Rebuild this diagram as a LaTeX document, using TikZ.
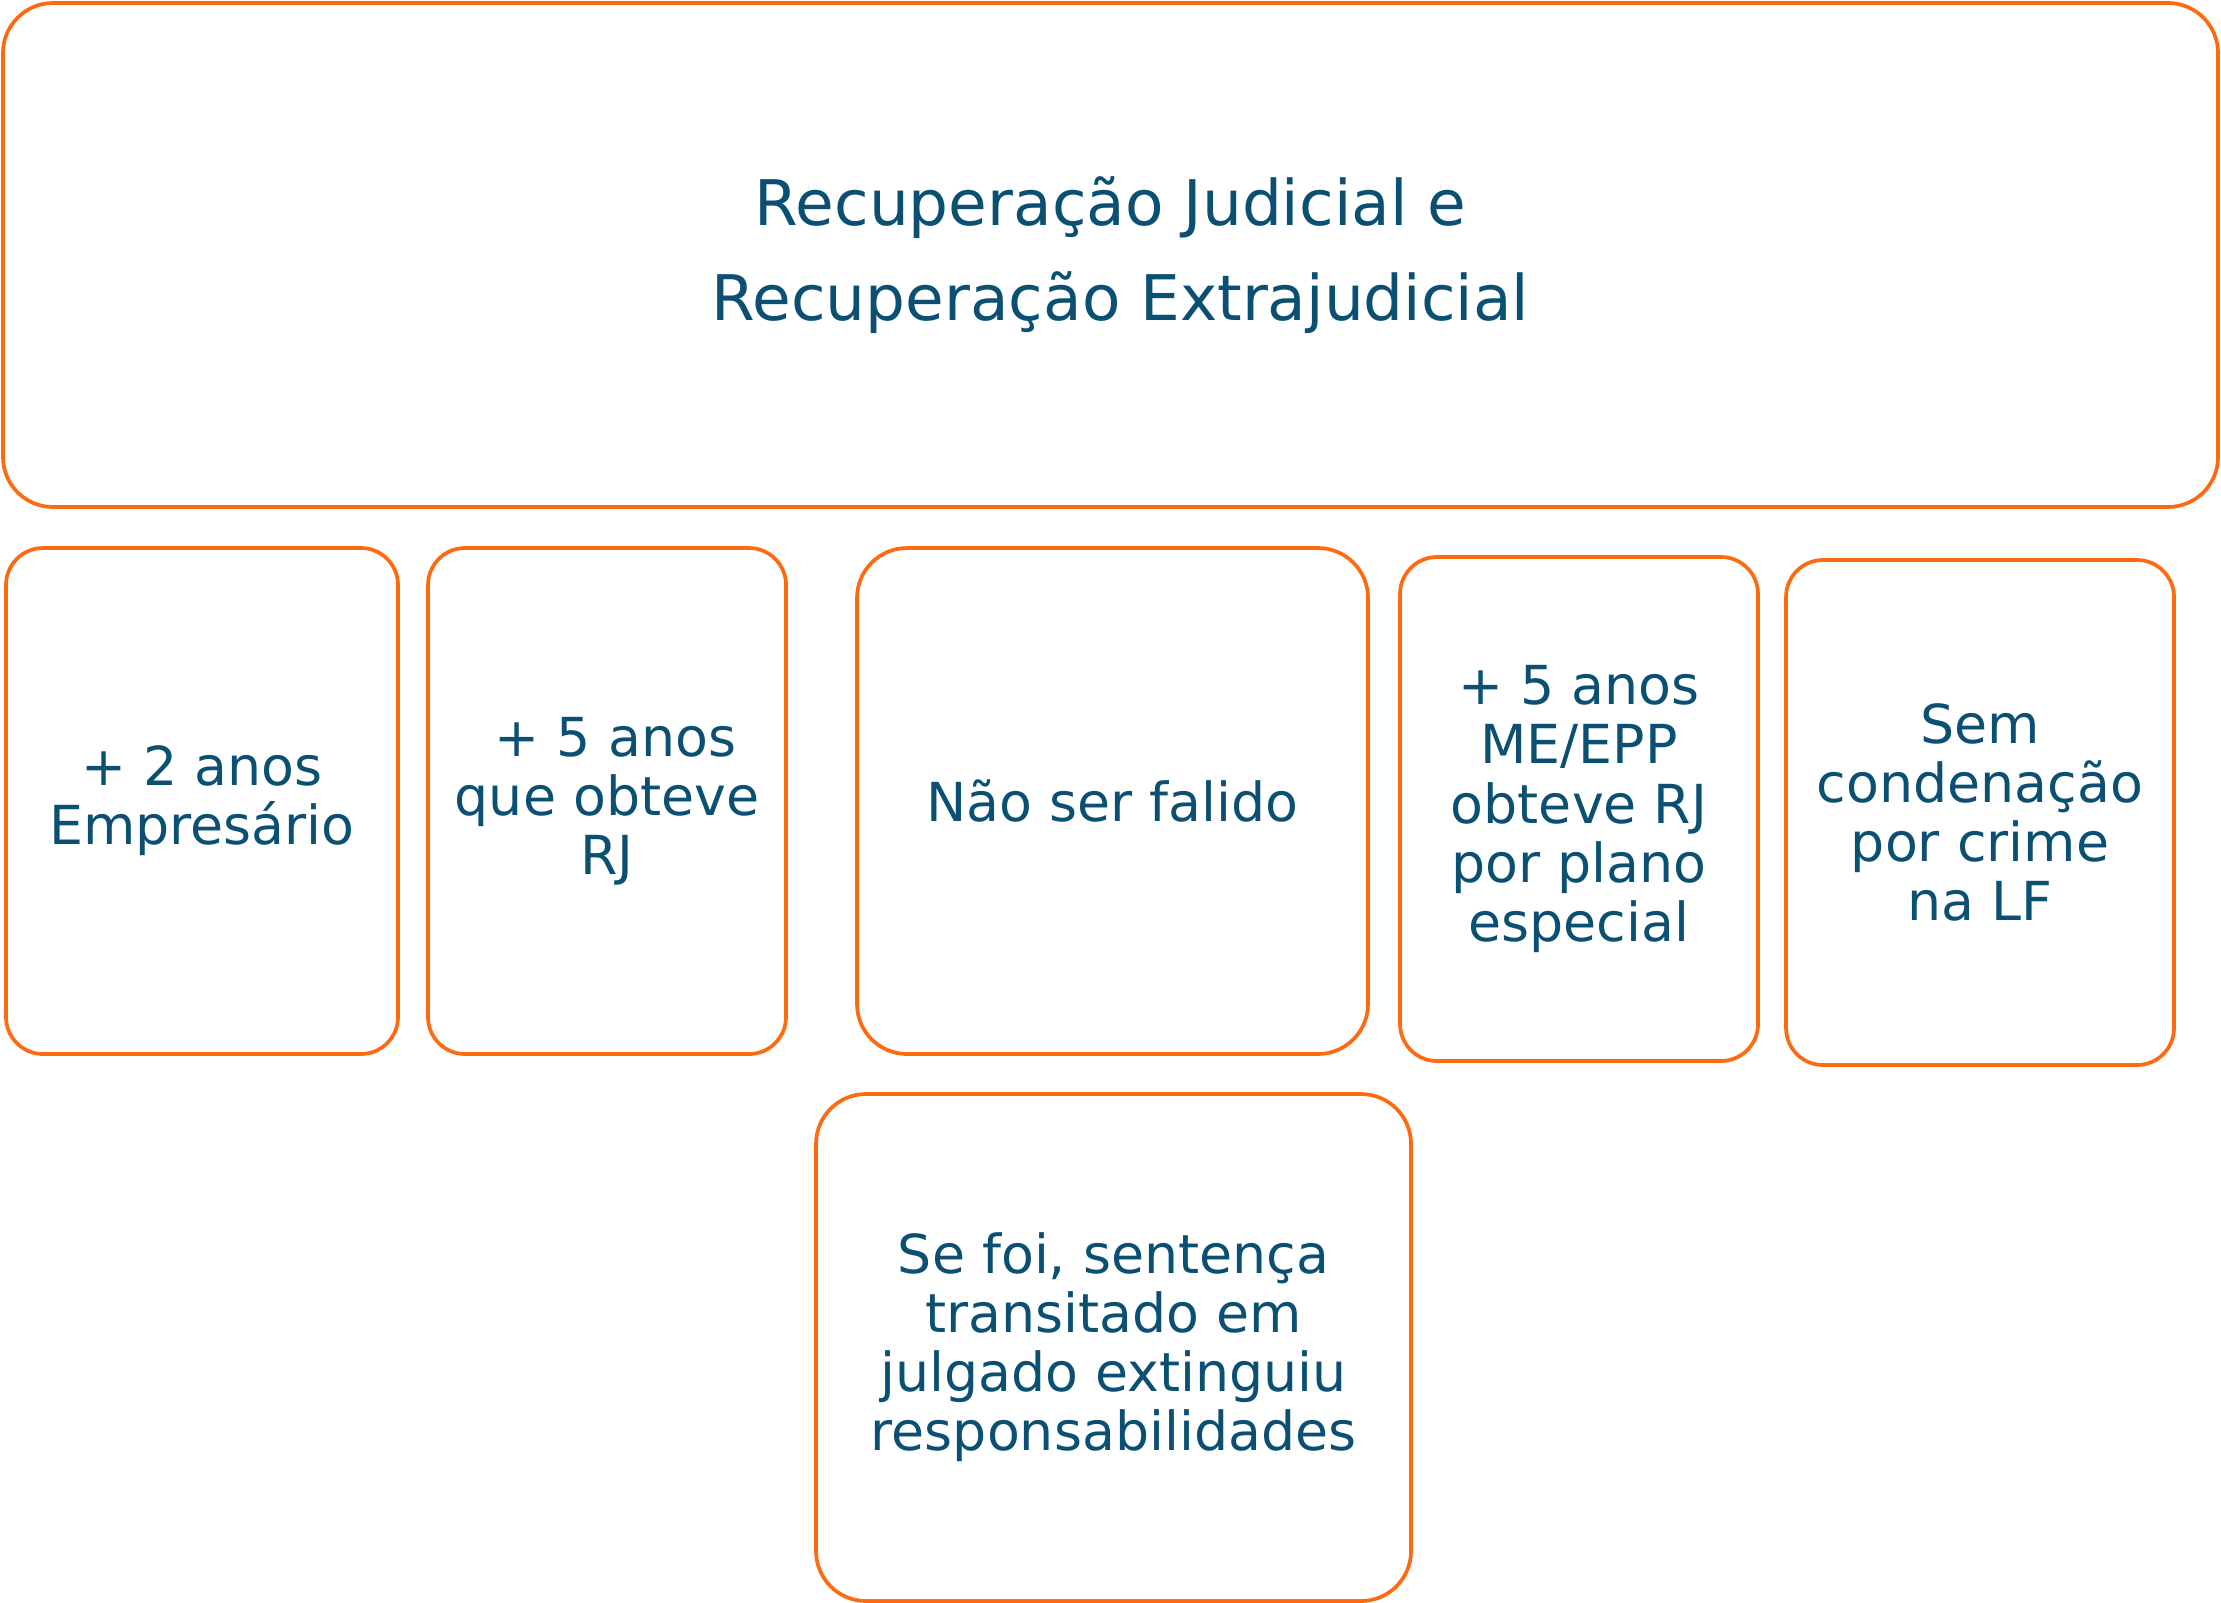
\documentclass[tikz,border=0pt]{standalone}
\usepackage{fontspec}
\setmainfont{DejaVu Sans}

\definecolor{laranja}{RGB}{255,106,16}
\definecolor{azultexto}{RGB}{11,80,115}

\begin{document}
\begin{tikzpicture}[
    criterio/.style={rectangle, draw=laranja, line width=1.05pt, rounded corners=0.37cm, text=azultexto, align=center, inner sep=0pt, font=\fontsize{15.3}{16.8}\selectfont},
    criteriolargo/.style={criterio, rounded corners=0.5cm},
    cabecalho/.style={criterio, rounded corners=0.5cm, font=\fontsize{17.9}{27}\selectfont}
]
\useasboundingbox (0,0) rectangle (22.21,-16.02);

% Title box
\node[cabecalho, minimum width=22.15cm, minimum height=5.04cm] (titulo) at (11.105,-2.55) {Recuperação Judicial e\\~Recuperação Extrajudicial};

% Requirements - first row
\node[criterio, minimum width=3.92cm, minimum height=5.06cm] (empresario) at (2.02,-8.01) {+ 2 anos\\Empresário};
\node[criterio, minimum width=3.58cm, minimum height=5.06cm] (cincoanos) at (6.07,-8.01) {~+ 5 anos\\que obteve\\RJ};
\node[criteriolargo, minimum width=5.11cm, minimum height=5.06cm] (falido) at (11.125,-8.01) {Não ser falido};
\node[criterio, minimum width=3.58cm, minimum height=5.04cm] (meepp) at (15.79,-8.09) {+ 5 anos\\ME/EPP\\obteve RJ\\por plano\\especial};
\node[criterio, minimum width=3.88cm, minimum height=5.05cm] (crime) at (19.80,-8.125) {Sem\\condenação\\por crime\\na LF};

% Requirement - second row
\node[criteriolargo, minimum width=5.95cm, minimum height=5.07cm] (sentenca) at (11.135,-13.475) {Se foi, sentença\\transitado em\\julgado extinguiu\\responsabilidades};

\end{tikzpicture}
\end{document}
